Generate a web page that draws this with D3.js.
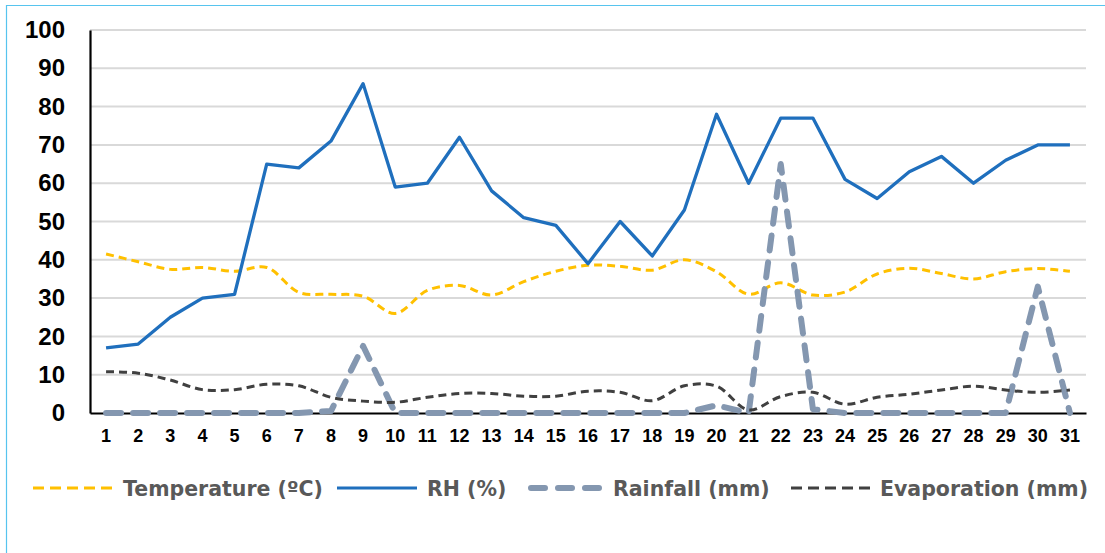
<!DOCTYPE html>
<html>
<head>
<meta charset="utf-8">
<script src="https://cdn.jsdelivr.net/npm/d3@7"></script>
<style>
  html, body { margin: 0; padding: 0; background: #fff; }
  svg { display: block; }
</style>
</head>
<body>
<svg id="chart" width="1105" height="553"></svg>
<script>
const days = d3.range(1, 32).map(String);
const yTicks = [0, 10, 20, 30, 40, 50, 60, 70, 80, 90, 100];

const temperature = [41.5, 39.5, 37.5, 38, 37, 38, 31.5, 31, 30.5, 26, 32, 33.3, 30.8, 34.3, 37, 38.6, 38.3, 37.3, 40, 36.9, 31, 34, 30.8, 31.6, 36.3, 37.8, 36.4, 35, 36.9, 37.7, 37];
const rh = [17, 18, 25, 30, 31, 65, 64, 71, 86, 59, 60, 72, 58, 51, 49, 39, 50, 41, 53, 78, 60, 77, 77, 61, 56, 63, 67, 60, 66, 70, 70];
const rainfall = [0, 0, 0, 0, 0, 0, 0, 0.5, 17.5, 0, 0, 0, 0, 0, 0, 0, 0, 0, 0, 2, 0, 65, 1, 0, 0, 0, 0, 0, 0, 33, 0];
const evaporation = [10.8, 10.4, 8.6, 6.1, 6.1, 7.5, 7.1, 4.1, 3.1, 2.8, 4.1, 5.1, 5.1, 4.4, 4.4, 5.7, 5.4, 3.2, 7.1, 7, 0.8, 4.3, 5.4, 2.3, 4.1, 4.9, 6, 7, 6, 5.4, 6];

const seriesNames = ["Temperature (ºC)", "RH (%)", "Rainfall (mm)", "Evaporation (mm)"];

const svg = d3.select("#chart");
const W = 1105, H = 553;
const plot = { left: 90, right: 1086, top: 30, bottom: 413 };

// outer border (light blue, top and left visible)
svg.append("line").attr("x1", 6).attr("x2", W).attr("y1", 5.5).attr("y2", 5.5)
  .attr("stroke", "#57c4ee").attr("stroke-width", 1.2);
svg.append("line").attr("x1", 6.5).attr("x2", 6.5).attr("y1", 5).attr("y2", H)
  .attr("stroke", "#57c4ee").attr("stroke-width", 1.2);

const x = d3.scaleBand().domain(days).range([plot.left, plot.right]).padding(0);
const y = d3.scaleLinear().domain([0, 100]).range([plot.bottom, plot.top]);
const cx = d => x(d) + x.bandwidth() / 2;

// gridlines
svg.append("g").selectAll("line").data(yTicks.filter(t => t > 0)).join("line")
  .attr("x1", plot.left).attr("x2", plot.right)
  .attr("y1", d => y(d)).attr("y2", d => y(d))
  .attr("stroke", "#d9d9d9").attr("stroke-width", 2);

// y axis
const yAxis = d3.axisLeft(y).tickValues(yTicks).tickSize(0).tickPadding(25);
const gy = svg.append("g").attr("transform", `translate(${plot.left},0)`).call(yAxis);
gy.select(".domain").attr("stroke", "#000").attr("stroke-width", 2.2);
gy.selectAll("text").attr("font-family", "'Liberation Sans', Arial, sans-serif")
  .attr("font-size", 24).attr("font-weight", "bold").attr("fill", "#000");

// x axis
const xAxis = d3.axisBottom(x).tickSize(0).tickPadding(16);
const gx = svg.append("g").attr("transform", `translate(0,${plot.bottom})`).call(xAxis);
gx.select(".domain").attr("stroke", "#000").attr("stroke-width", 2.2);
gx.selectAll("text").attr("font-family", "'Liberation Sans', Arial, sans-serif")
  .attr("font-size", 18).attr("font-weight", "bold").attr("fill", "#000");

const styles = [
  { data: temperature, color: "#FFC000", width: 3, dash: "8,5", cap: "butt", curve: d3.curveCatmullRom.alpha(0.5) },
  { data: rh, color: "#1F6FBD", width: 3.3, dash: null, cap: "butt", curve: d3.curveLinear },
  { data: rainfall, color: "#8497B0", width: 6, dash: "15,12", cap: "round", curve: d3.curveLinear },
  { data: evaporation, color: "#404040", width: 3, dash: "8,5", cap: "butt", curve: d3.curveCatmullRom.alpha(0.5) }
];

[0, 1, 2, 3].forEach(i => {
  const s = styles[i];
  const line = d3.line().x((d, j) => cx(days[j])).y(d => y(d)).curve(s.curve);
  svg.append("path").datum(s.data)
    .attr("d", line)
    .attr("fill", "none")
    .attr("stroke", s.color)
    .attr("stroke-width", s.width)
    .attr("stroke-linecap", s.cap)
    .attr("stroke-linejoin", "round")
    .attr("stroke-dasharray", s.dash);
});

// legend
const legendY = 488;
const legendItems = [
  { x0: 33, x1: 112, tx: 123 },
  { x0: 337, x1: 417, tx: 427 },
  { x0: 531, x1: 599, tx: 613 },
  { x0: 791, x1: 870, tx: 880 }
];
const legendDash = ["11,6", null, "14,13", "11,6"];
legendItems.forEach((it, i) => {
  const s = styles[i];
  svg.append("line").attr("x1", it.x0).attr("x2", it.x1)
    .attr("y1", legendY).attr("y2", legendY)
    .attr("stroke", s.color).attr("stroke-width", i === 2 ? 6 : 3)
    .attr("stroke-linecap", i === 2 ? "round" : "butt")
    .attr("stroke-dasharray", legendDash[i]);
  svg.append("text").attr("x", it.tx).attr("y", legendY + 7.5)
    .attr("font-family", "'DejaVu Sans', Verdana, sans-serif")
    .attr("font-size", 20.5).attr("font-weight", "bold").attr("fill", "#595959")
    .text(seriesNames[i]);
});
</script>
</body>
</html>
